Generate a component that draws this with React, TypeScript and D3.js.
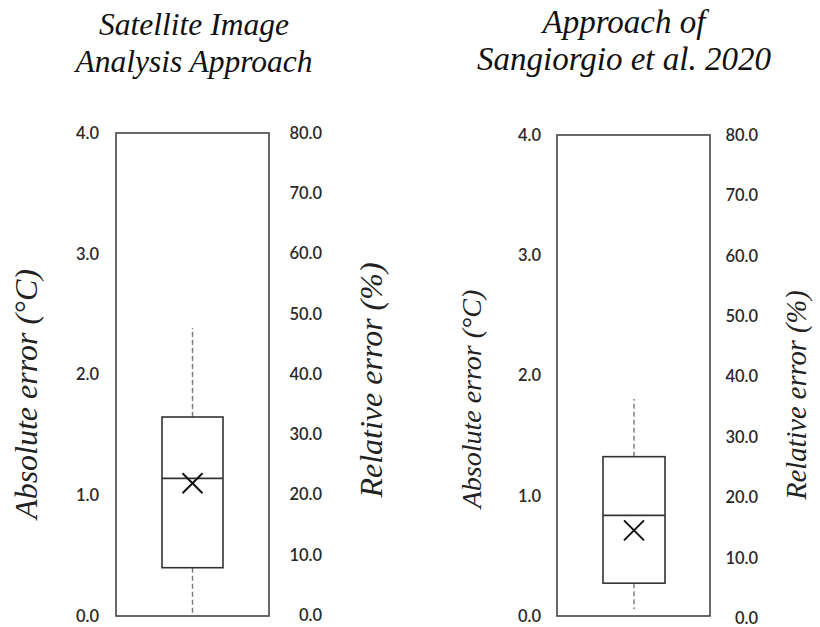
import React from "react";
import * as d3 from "d3";

const titleLines: string[][] = [
  ["Satellite Image", "Analysis Approach"],
  ["Approach of", "Sangiorgio et al. 2020"],
];
const q1 = [0.4, 0.273];
const median = [1.14, 0.836];
const q3 = [1.648, 1.325];
const mean = [1.1, 0.712];
const whiskerLow = [0.0, 0.058];
const whiskerHigh = [2.385, 1.805];
const absTicks = [0, 1, 2, 3, 4];
const relTicks = [0, 10, 20, 30, 40, 50, 60, 70, 80];
const absLabel = "Absolute error (°C)";
const relLabel = "Relative error (%)";

const layout = [
  {
    x0: 116, x1: 269, top: 133, bottom: 616,
    relTop: 133, relBottom: 615,
    boxL: 162, boxR: 223,
    titleX: 194, titleY: [35, 72], titleSize: 31.5,
    leftTickX: 99, rightTickX: 322,
    absX: 37, absY: 394, absSize: 32,
    relX: 382, relY: 380, relSize: 32,
  },
  {
    x0: 557, x1: 710, top: 135, bottom: 616,
    relTop: 135, relBottom: 618,
    boxL: 603, boxR: 665,
    titleX: 624, titleY: [33, 70], titleSize: 33,
    leftTickX: 541, rightTickX: 758,
    absX: 481, absY: 399, absSize: 28,
    relX: 806, relY: 395, relSize: 28.5,
  },
];

const tickFont = "Lato, 'Noto Sans', sans-serif";
const serifFont = "'Liberation Serif', 'Times New Roman', Times, serif";

export default function App() {
  return (
    <svg width={820} height={627} style={{ position: "absolute", left: 0, top: 0, background: "#fff" }}>
      <rect x={0} y={0} width={820} height={627} fill="#fff" />
      {layout.map((L, i) => {
        const y = d3.scaleLinear().domain([0, 4]).range([L.bottom, L.top]);
        const yr = d3.scaleLinear().domain([0, 80]).range([L.relBottom, L.relTop]);
        const cx = (L.boxL + L.boxR) / 2;
        const mx = cx;
        const my = y(mean[i]);
        const xs = 10;
        return (
          <g key={i}>
            {titleLines[i].map((t, k) => (
              <text key={k} x={L.titleX} y={L.titleY[k]} textAnchor="middle" fontFamily={serifFont}
                fontStyle="italic" fontSize={L.titleSize} fill="#111">{t}</text>
            ))}
            <rect x={L.x0} y={L.top} width={L.x1 - L.x0} height={L.bottom - L.top}
              fill="none" stroke="#444" strokeWidth={1.6} />
            {absTicks.map((t) => (
              <text key={"a" + t} x={L.leftTickX} y={y(t)} dy="0.36em" textAnchor="end"
                style={{ fontFamily: tickFont, fontWeight: 600 }} fontSize={16.5} fill="#2a2a2a">{d3.format(".1f")(t)}</text>
            ))}
            {relTicks.map((t) => (
              <text key={"r" + t} x={L.rightTickX} y={yr(t)} dy="0.36em" textAnchor="end"
                style={{ fontFamily: tickFont, fontWeight: 600 }} fontSize={16.5} fill="#2a2a2a">{d3.format(".1f")(t)}</text>
            ))}
            <line x1={cx} x2={cx} y1={y(q3[i])} y2={y(whiskerHigh[i])} stroke="#777" strokeWidth={1.4} strokeDasharray="5,3" />
            <line x1={cx} x2={cx} y1={y(q1[i])} y2={y(whiskerLow[i])} stroke="#777" strokeWidth={1.4} strokeDasharray="5,3" />
            <rect x={L.boxL} y={y(q3[i])} width={L.boxR - L.boxL} height={y(q1[i]) - y(q3[i])}
              fill="none" stroke="#333" strokeWidth={1.6} />
            <line x1={L.boxL} x2={L.boxR} y1={y(median[i])} y2={y(median[i])} stroke="#333" strokeWidth={1.8} />
            <line x1={mx - xs} x2={mx + xs} y1={my - xs} y2={my + xs} stroke="#111" strokeWidth={2} />
            <line x1={mx - xs} x2={mx + xs} y1={my + xs} y2={my - xs} stroke="#111" strokeWidth={2} />
            <text transform={`translate(${L.absX},${L.absY}) rotate(-90)`} textAnchor="middle"
              fontFamily={serifFont} fontStyle="italic" fontSize={L.absSize} fill="#222">{absLabel}</text>
            <text transform={`translate(${L.relX},${L.relY}) rotate(-90)`} textAnchor="middle"
              fontFamily={serifFont} fontStyle="italic" fontSize={L.relSize} fill="#222">{relLabel}</text>
          </g>
        );
      })}
    </svg>
  );
}
